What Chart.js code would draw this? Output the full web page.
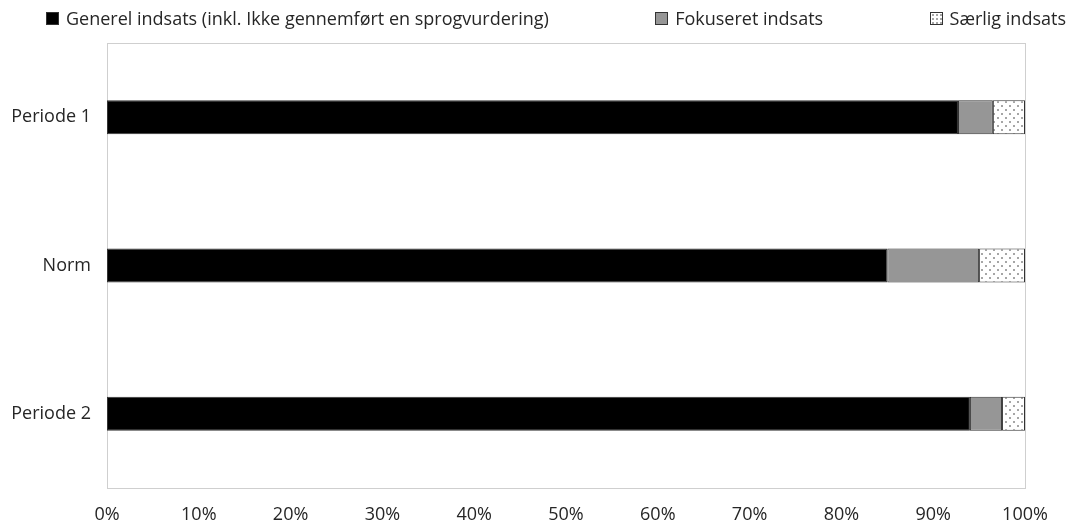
<!DOCTYPE html>
<html>
<head>
<meta charset="utf-8">
<script src="https://cdn.jsdelivr.net/npm/chart.js@4/dist/chart.umd.min.js"></script>
<style>
  body { margin: 0; background: #fff; }
  #wrap { position: relative; width: 1083px; height: 530px; }
  #legend {
    position: absolute; top: 6px; left: 46px; right: 17px;
    display: flex; justify-content: space-between;
    font: 18px "Open Sans", sans-serif; color: #262626;
  }
  .item { display: flex; align-items: center; white-space: nowrap; line-height: 24px; }
  .swatch { width: 11px; height: 11px; border: 1px solid #333; margin-right: 7px; }
</style>
</head>
<body>
<div id="wrap">
  <canvas id="chart" width="1083" height="530"></canvas>
  <div id="legend"></div>
</div>
<script>
const categories = ["Periode 1", "Norm", "Periode 2"];
const seriesNames = ["Generel indsats (inkl. Ikke gennemført en sprogvurdering)", "Fokuseret indsats", "Særlig indsats"];
const generel = [92.7, 85.0, 94.0];
const fokuseret = [3.8, 10.0, 3.5];
const saerlig = [3.5, 5.0, 2.5];
const xTicks = [0, 10, 20, 30, 40, 50, 60, 70, 80, 90, 100];

// dotted fill like the excel pattern
function dotPattern() {
    let c = document.createElement("canvas");
    c.width = 8; c.height = 8;
    let g = c.getContext("2d");
    g.fillStyle = "#fff";
    g.fillRect(0, 0, 8, 8);
    g.fillStyle = "#a6a6a6";
    g.fillRect(1, 1, 2, 2);
    g.fillRect(5, 5, 2, 2);
    return c;
}
const dots = document.getElementById("chart").getContext("2d").createPattern(dotPattern(), "repeat");

const fills = ["#000000", "#969696", dots];
const seriesData = [generel, fokuseret, saerlig];

// html legend
const legend = document.getElementById("legend");
seriesNames.forEach((name, i) => {
    let item = document.createElement("div");
    item.className = "item";
    let sw = document.createElement("span");
    sw.className = "swatch";
    if (i === 2) {
        sw.style.background = "radial-gradient(circle, #a6a6a6 0.8px, #fff 1.2px) 0 0/4px 4px";
    } else {
        sw.style.background = fills[i];
    }
    item.appendChild(sw);
    item.appendChild(document.createTextNode(name));
    legend.appendChild(item);
});

const frame = {
    id: "frame",
    beforeDatasetsDraw(chart) {
        const a = chart.chartArea;
        const ctx = chart.ctx;
        ctx.save();
        ctx.strokeStyle = "#cfcfcf";
        ctx.lineWidth = 1;
        ctx.strokeRect(Math.round(a.left) + 0.5, Math.round(a.top) + 0.5,
            Math.round(a.right - a.left), Math.round(a.bottom - a.top));
        ctx.restore();
    }
};

new Chart(document.getElementById("chart"), {
    type: "bar",
    data: {
        labels: categories,
        datasets: seriesNames.map((name, i) => ({
            label: name,
            data: seriesData[i],
            backgroundColor: fills[i],
            borderColor: "#333333",
            borderWidth: 1,
            borderSkipped: false,
            barPercentage: 0.229,
            categoryPercentage: 1
        }))
    },
    options: {
        indexAxis: "y",
        responsive: false,
        animation: false,
        layout: { padding: { top: 43, right: 58, left: 0, bottom: 0 } },
        plugins: { legend: { display: false }, tooltip: { enabled: false } },
        scales: {
            x: {
                stacked: true,
                min: 0,
                max: 100,
                afterBuildTicks: axis => { axis.ticks = xTicks.map(v => ({ value: v })); },
                afterFit: axis => { axis.height = 42; },
                grid: { display: false, drawTicks: false },
                border: { display: false },
                ticks: {
                    padding: 16,
                    color: "#262626",
                    font: { family: "Open Sans", size: 18 },
                    callback: v => v + "%",
                    maxRotation: 0
                }
            },
            y: {
                stacked: true,
                afterFit: axis => { axis.width = 107; },
                grid: { display: false, drawTicks: false },
                border: { display: false },
                ticks: {
                    padding: 16,
                    color: "#262626",
                    font: { family: "Open Sans", size: 18 }
                }
            }
        }
    },
    plugins: [frame]
});
</script>
</body>
</html>
